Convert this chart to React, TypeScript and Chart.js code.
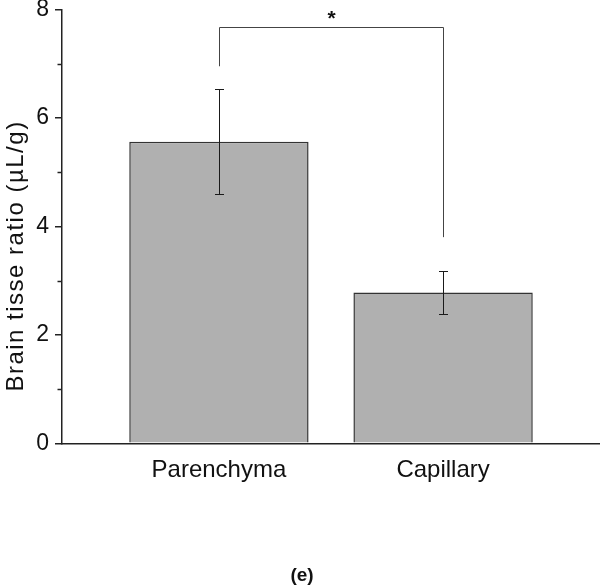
import React, { useEffect, useRef } from 'react';
import { Chart, registerables } from 'chart.js';

Chart.register(...registerables);

// ---- data ----
const categories = ['Parenchyma', 'Capillary'];
const positions = [1, 2];
const means = [5.56, 2.78];
const errors = [0.97, 0.4];
const yMajorTicks = [0, 2, 4, 6, 8];
const yMinorTicks = [1, 3, 5, 7];
const bracketTop = 7.67;
const bracketLegEnds = [6.95, 3.8];
const significanceMark = '*';
const panelLabel = '(e)';
const yTitle = 'Brain tisse ratio (\u00B5L/g)';

const FONT = "'Liberation Sans', Arial, Helvetica, sans-serif";

const overlay = {
  id: 'overlay',
  afterDatasetsDraw(chart: any) {
    const { ctx, scales } = chart;
    const x = scales.x;
    const y = scales.y;
    const line = (x1: number, y1: number, x2: number, y2: number) => {
      ctx.beginPath();
      ctx.moveTo(x1, y1);
      ctx.lineTo(x2, y2);
      ctx.stroke();
    };
    ctx.save();
    // minor ticks on y axis
    ctx.strokeStyle = '#222';
    ctx.lineWidth = 1.5;
    yMinorTicks.forEach((v) => {
      const py = Math.round(y.getPixelForValue(v)) + 0.5;
      line(x.left - 4.5, py, x.left, py);
    });
    // error bars
    ctx.lineWidth = 1;
    ctx.strokeStyle = '#1a1a1a';
    positions.forEach((p, i) => {
      const px = Math.round(x.getPixelForValue(p)) + 0.5;
      const top = Math.round(y.getPixelForValue(means[i] + errors[i])) + 0.5;
      const bot = Math.round(y.getPixelForValue(means[i] - errors[i])) + 0.5;
      line(px, top, px, bot);
      line(px - 4.5, top, px + 4.5, top);
      line(px - 4.5, bot, px + 4.5, bot);
    });
    // significance bracket
    ctx.strokeStyle = '#444';
    const bx1 = Math.round(x.getPixelForValue(positions[0])) + 0.5;
    const bx2 = Math.round(x.getPixelForValue(positions[1])) + 0.5;
    const by = Math.round(y.getPixelForValue(bracketTop)) + 0.5;
    line(bx1, by, bx2, by);
    line(bx1, by, bx1, y.getPixelForValue(bracketLegEnds[0]));
    line(bx2, by, bx2, y.getPixelForValue(bracketLegEnds[1]));
    ctx.fillStyle = '#111';
    ctx.font = `bold 21px ${FONT}`;
    ctx.textAlign = 'center';
    ctx.textBaseline = 'alphabetic';
    ctx.fillText(significanceMark, (bx1 + bx2) / 2, by - 3);
    // y title
    ctx.save();
    ctx.font = `24px ${FONT}`;
    try {
      (ctx as any).letterSpacing = '1.5px';
    } catch (e) {
      /* ignore */
    }
    ctx.translate(16, 256);
    ctx.rotate(-Math.PI / 2);
    ctx.textBaseline = 'middle';
    ctx.textAlign = 'center';
    ctx.fillText(yTitle, 0, 0);
    ctx.restore();
    // panel label
    ctx.font = `bold 19px ${FONT}`;
    ctx.textAlign = 'center';
    ctx.textBaseline = 'middle';
    ctx.fillText(panelLabel, 302, 576);
    ctx.restore();
  },
};

export default function App() {
  const canvasRef = useRef<HTMLCanvasElement | null>(null);

  useEffect(() => {
    document.body.style.margin = '0';
    const canvas = canvasRef.current;
    if (!canvas) return;
    const chart = new Chart(canvas, {
      type: 'bar',
      data: {
        datasets: [
          {
            data: positions.map((p, i) => ({ x: p, y: means[i] })),
            backgroundColor: '#b0b0b0',
            borderColor: '#333',
            borderWidth: 1.5,
            categoryPercentage: 1,
            barPercentage: 0.8,
          } as any,
        ],
      },
      options: {
        responsive: false,
        animation: false,
        devicePixelRatio: 1,
        layout: { padding: { left: 0, right: 0, top: 0, bottom: 0 } },
        plugins: {
          legend: { display: false },
          tooltip: { enabled: false },
          title: { display: false },
        },
        scales: {
          x: {
            type: 'linear',
            min: 0.3,
            max: 2.7,
            offset: false,
            afterBuildTicks: (s: any) => {
              s.ticks = positions.map((v) => ({ value: v }));
            },
            afterFit: (s: any) => {
              s.height = 143.7;
              s.paddingLeft = 0;
              s.paddingRight = 0;
            },
            ticks: {
              autoSkip: false,
              maxRotation: 0,
              padding: 13,
              color: '#111',
              font: { family: FONT, size: 24 },
              callback: (v: any) => {
                const idx = positions.indexOf(Number(v));
                return idx >= 0 ? categories[idx] : '';
              },
            },
            grid: { display: false, drawTicks: false, offset: false },
            border: { display: true, color: '#222', width: 1.5 },
          },
          y: {
            type: 'linear',
            min: 0,
            max: 8,
            afterBuildTicks: (s: any) => {
              s.ticks = yMajorTicks.map((v) => ({ value: v }));
            },
            afterFit: (s: any) => {
              s.width = 62;
              s.paddingTop = 9.3;
              s.paddingBottom = 0;
            },
            ticks: {
              padding: 6,
              color: '#111',
              font: { family: FONT, size: 23, lineHeight: 1 },
            },
            grid: {
              drawOnChartArea: false,
              drawTicks: true,
              tickLength: 7,
              color: '#222',
              lineWidth: 1.5,
            },
            border: { display: true, color: '#222', width: 1.5 },
          },
        },
      },
      plugins: [overlay],
    } as any);
    return () => chart.destroy();
  }, []);

  return (
    <div style={{ width: 600, height: 587 }}>
      <canvas ref={canvasRef} width={600} height={587} style={{ display: 'block' }} />
    </div>
  );
}
